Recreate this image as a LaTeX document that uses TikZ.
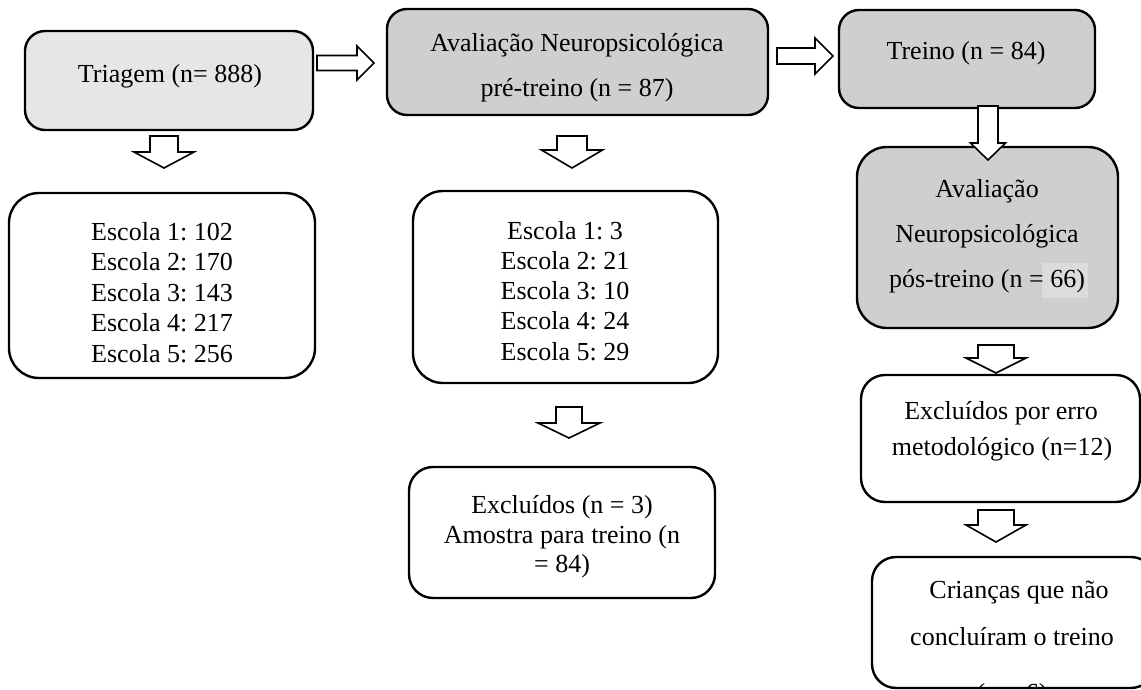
\documentclass[tikz,border=0pt]{standalone}
\usepackage{fontspec}
\setmainfont{Liberation Serif}
\frenchspacing
\definecolor{boxlight}{HTML}{E7E6E6}
\definecolor{boxdark}{HTML}{D0CECE}
\definecolor{hilite}{HTML}{DCDCDC}

% hollow block arrow pointing down: cx, shaft half width, head half width, top, head line, tip
\newcommand\dblock[6]{%
  \draw[blk] ({#1-#2},#4) -- ({#1+#2},#4) -- ({#1+#2},#5) -- ({#1+#3},#5)
    -- (#1,#6) -- ({#1-#3},#5) -- ({#1-#2},#5) -- cycle;}
% hollow block arrow pointing right: shaft start, head line, tip, cy, shaft half width, head half width
\newcommand\rblock[6]{%
  \draw[blk] (#1,{#4-#5}) -- (#2,{#4-#5}) -- (#2,{#4-#6}) -- (#3,#4)
    -- (#2,{#4+#6}) -- (#2,{#4+#5}) -- (#1,{#4+#5}) -- cycle;}

\begin{document}
\begin{tikzpicture}[x=1pt,y=-1pt,
  box/.style={draw=black, line width=2.4pt, rounded corners=#1, inner sep=0pt},
  box/.default=22pt,
  blk/.style={draw=black, fill=white, line width=1.6pt, line join=miter},
  txt/.style={anchor=base, inner sep=0pt, font=\fontsize{26}{30}\selectfont}]
\useasboundingbox (0,0) rectangle (1141,690);

% ---- boxes ----
\node[box=20pt, fill=boxlight, minimum width=288pt, minimum height=99pt]  (triagem)  at (169,80.5) {};
\node[box=20pt, fill=boxdark,  minimum width=381pt, minimum height=106pt] (preav)    at (577.5,62) {};
\node[box=20pt, fill=boxdark,  minimum width=256pt, minimum height=98pt]  (treino)   at (967,59) {};
\node[box=30pt, fill=boxdark,  minimum width=261pt, minimum height=181pt] (posav)    at (987.5,237.5) {};
\node[box=30pt, fill=white,    minimum width=306pt, minimum height=185pt] (escA)     at (162,285.5) {};
\node[box=30pt, fill=white,    minimum width=305pt, minimum height=192pt] (escB)     at (565.5,287) {};
\node[box=24pt, fill=white,    minimum width=306pt, minimum height=131pt] (exclA)    at (562,532.5) {};
\node[box=24pt, fill=white,    minimum width=279pt, minimum height=127pt] (exclB)    at (1000.5,438.5) {};
\node[box=24pt, fill=white,    minimum width=283pt, minimum height=131pt] (criancas) at (1013.5,622.5) {};

% ---- block arrows ----
\rblock{317}{357}{374}{63}{7.5}{17}
\rblock{777}{815}{833}{56}{8}{18}
\dblock{164}{14}{30}{136}{152}{168}
\dblock{572}{15}{30.5}{136}{150}{168}
\dblock{569}{13}{31}{407}{423}{438}
\dblock{988}{10}{17.5}{106}{143}{160}
\dblock{996}{18}{30}{345}{358}{373}
\dblock{996}{18}{30}{510}{525}{542}

% ---- texts ----
\node[txt] (t-triagem) at (170,83) {Triagem (n= 888)};

\node[txt] (t-preav1) at (577,52) {Avaliação Neuropsicológica};
\node[txt] (t-preav2) at (577,97) {pré-treino (n = 87)};

\node[txt] (t-treino) at (966,60) {Treino (n = 84)};

\fill[hilite] (1042,263) rectangle (1088,298);
\node[txt] (t-pos1) at (987,197) {Avaliação};
\node[txt] (t-pos2) at (987,242) {Neuropsicológica};
\node[txt] (t-pos3) at (987,287) {pós-treino (n = 66)};

\foreach \t [count=\i] in {Escola 1: 102, Escola 2: 170, Escola 3: 143, Escola 4: 217, Escola 5: 256}
  \node[txt] (t-escA\i) at (162,{240+30.5*(\i-1)}) {\t};

\foreach \t [count=\i] in {Escola 1: 3, Escola 2: 21, Escola 3: 10, Escola 4: 24, Escola 5: 29}
  \node[txt] (t-escB\i) at (565,{239+30.3*(\i-1)}) {\t};

\node[txt] (t-exclA1) at (562,513) {Excluídos (n = 3)};
\node[txt] (t-exclA2) at (562,543) {Amostra para treino (n};
\node[txt] (t-exclA3) at (562,572) {= 84)};

\node[txt] (t-exclB1) at (1001,419) {Excluídos por erro};
\node[txt] (t-exclB2) at (1002,455) {metodológico (n=12)};

\node[txt] (t-cri1) at (1019,598) {Crianças que não};
\node[txt] (t-cri2) at (1012,645) {concluíram o treino};
\begin{scope}
  \clip (873,558) rectangle (1155,686.5);
  \node[txt] (t-cri3) at (1012,701) {(n = 6)};
\end{scope}
\end{tikzpicture}
\end{document}
